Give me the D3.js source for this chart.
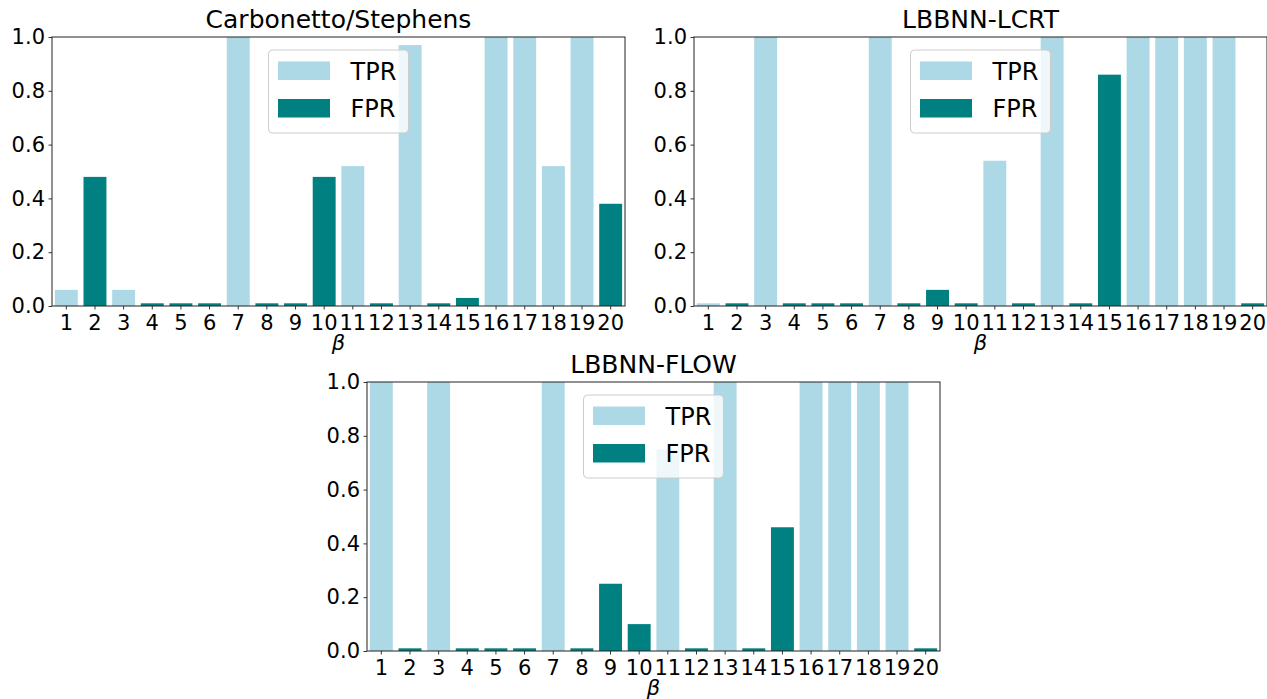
<!DOCTYPE html>
<html>
<head>
<meta charset="utf-8">
<script src="https://cdn.jsdelivr.net/npm/d3@7"></script>
<style>
  body { margin: 0; background: #fff; }
  svg text { font-family: "DejaVu Sans", sans-serif; fill: #000; }
</style>
</head>
<body>
<script>
// beta index labels on the x axis
const betaLabels = ["1","2","3","4","5","6","7","8","9","10","11","12","13","14","15","16","17","18","19","20"];
// which rate each bar shows (true betas -> TPR, the rest -> FPR)
const rateType = ["TPR","FPR","TPR","FPR","FPR","FPR","TPR","FPR","FPR","FPR","TPR","FPR","TPR","FPR","FPR","TPR","TPR","TPR","TPR","FPR"];
const yTicks = [0, 0.2, 0.4, 0.6, 0.8, 1.0];

const carbonettoValues = [0.06,0.48,0.06,0.01,0.01,0.01,1.0,0.01,0.01,0.48,0.52,0.01,0.97,0.01,0.03,1.0,1.0,0.52,1.0,0.38];
const lcrtValues       = [0.01,0.01,1.0,0.01,0.01,0.01,1.0,0.01,0.06,0.01,0.54,0.01,1.0,0.01,0.86,1.0,1.0,1.0,1.0,0.01];
const flowValues       = [1.0,0.01,1.0,0.01,0.01,0.01,1.0,0.01,0.25,0.10,0.75,0.01,1.0,0.01,0.46,1.0,1.0,1.0,1.0,0.01];

const colors = { TPR: "#add8e6", FPR: "#008080" };

const width = 1267, height = 699;
const svg = d3.select("body").append("svg")
    .attr("width", width)
    .attr("height", height);

const drawPanel = (title, values, left, top) => {
    const w = 573, h = 269;
    const g = svg.append("g").attr("transform", `translate(${left},${top})`);

    const x = d3.scaleBand()
        .domain(betaLabels)
        .range([0, w])
        .paddingInner(0.2)
        .paddingOuter(0.1);
    const y = d3.scaleLinear().domain([0, 1]).range([h, 0]);

    g.selectAll("rect.bar")
        .data(values)
        .enter()
        .append("rect")
        .attr("class", "bar")
        .attr("x", (d, i) => x(betaLabels[i]))
        .attr("y", d => y(d))
        .attr("width", x.bandwidth())
        .attr("height", d => h - y(d))
        .style("fill", (d, i) => colors[rateType[i]]);

    const yAxis = g.append("g")
        .call(d3.axisLeft(y).tickValues(yTicks).tickFormat(d3.format(".1f")).tickSize(3.5).tickPadding(3.5));
    const xAxis = g.append("g")
        .attr("transform", `translate(0,${h})`)
        .call(d3.axisBottom(x).tickSize(3.5).tickPadding(2));
    [yAxis, xAxis].forEach(a => {
        a.select(".domain").remove();
        a.selectAll("text").style("font-size", "21px").style("font-family", "DejaVu Sans");
        a.selectAll("line").attr("stroke", "#000").attr("stroke-width", 0.8);
    });
    xAxis.selectAll("text").attr("dy", "0.9em");

    // spines
    g.append("rect")
        .attr("x", 0).attr("y", 0)
        .attr("width", w).attr("height", h)
        .attr("fill", "none")
        .attr("stroke", "#222")
        .attr("stroke-width", 1);

    g.append("text")
        .attr("x", w / 2)
        .attr("y", -9)
        .attr("text-anchor", "middle")
        .style("font-size", "25px")
        .text(title);

    g.append("text")
        .attr("x", w / 2)
        .attr("y", h + 44)
        .attr("text-anchor", "middle")
        .style("font-size", "21px")
        .style("font-style", "italic")
        .text("β");

    // legend, upper center
    const lw = 140, lh = 83;
    const lg = g.append("g").attr("transform", `translate(${(w - lw) / 2},13)`);
    lg.append("rect")
        .attr("width", lw).attr("height", lh)
        .attr("rx", 4)
        .attr("fill", "#fff")
        .attr("fill-opacity", 0.8)
        .attr("stroke", "#ccc");
    ["TPR", "FPR"].forEach((k, i) => {
        lg.append("rect")
            .attr("x", 9.5).attr("y", 11.5 + i * 37.5)
            .attr("width", 52).attr("height", 18.5)
            .attr("fill", colors[k]);
        lg.append("text")
            .attr("x", 82).attr("y", 21 + i * 37.5)
            .attr("dy", "0.36em")
            .style("font-size", "24px")
            .text(k);
    });
};

drawPanel("Carbonetto/Stephens", carbonettoValues, 52, 37);
drawPanel("LBBNN-LCRT", lcrtValues, 694, 37);
drawPanel("LBBNN-FLOW", flowValues, 367, 382);
</script>
</body>
</html>
